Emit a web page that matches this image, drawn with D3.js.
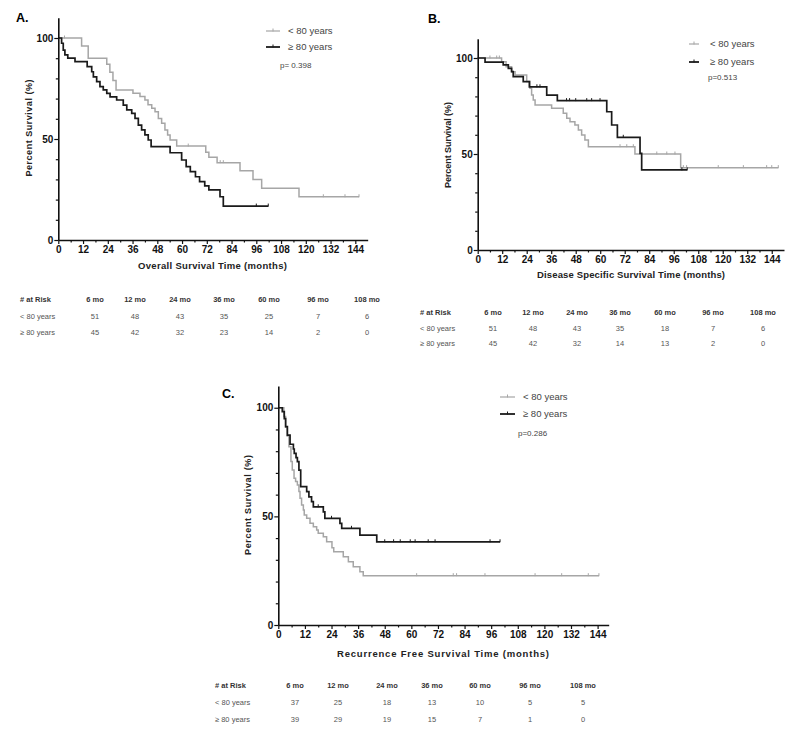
<!DOCTYPE html>
<html><head><meta charset="utf-8">
<script src="https://cdn.jsdelivr.net/npm/d3@7"></script>
<style>body{margin:0;background:#fff}svg{display:block}</style>
</head><body>
<svg id="c" width="800" height="738"></svg>
<script>
// ---------- shared tick labels ----------
const monthTicks = [0,12,24,36,48,60,72,84,96,108,120,132,144];
const monthMinor = [6,18,30,42,54,66,78,90,102,114,126,138];
const pctTicks = [0,50,100];
const pctMinor = [10,20,30,40,60,70,80,90];
const riskHeaders = ["6 mo","12 mo","24 mo","36 mo","60 mo","96 mo","108 mo"];
const groupLabels = ["< 80 years","\u2265 80 years"];

// ---------- Panel A: overall survival ----------
const aUnderT = [0,11.3,14.5,23.5,25,26.5,28,36.2,39.6,42,43.5,45.3,46.9,48.5,50.1,51.7,53,54.2,57.4,71.5,73,77,88.1,94.4,98.6,116.7];
const aUnderS = [100,96,90,87,83,79,74.3,72.6,71,69.3,67,65.2,63.5,60.2,57.8,54.5,52,49.5,46.5,43.5,41,38.3,34.3,30,25.6,21.4];
const aUnderEnd = 145.8;
const aUnderCens = [3,63,78.5,80,128.5,139,145.8];
const aOverT = [0,1.6,2.4,3.2,4.6,8.1,14,16.2,17,18.6,20.2,21.8,23.5,25.1,28.3,31.5,33.2,35.6,37.2,38.8,40.4,42,43.6,45,54.2,59.8,62,64,66.5,68.5,71,73,78.4,80];
const aOverS = [100,97.4,94,91.6,90,88.3,85.8,83.3,80.8,78.4,75.9,74.3,72.6,70.9,69.3,66.8,64.4,62.7,60.2,56.9,54.5,52,49.5,46.2,43.2,39.6,36.3,33.8,31.3,28.9,26.8,24.8,21.4,16.8];
const aOverEnd = 101.8;
const aOverCens = [96,101.8];
const aRiskUnder = [51,48,43,35,25,7,6];
const aRiskOver = [45,42,32,23,14,2,0];

// ---------- Panel B: disease specific survival ----------
const bUnderT = [0,11.7,13.9,16.6,18.3,24,25.6,26.4,27.2,28.1,36.2,41.9,43.6,45.2,47.6,49.3,50.9,52.5,54.2,77,99.4];
const bUnderS = [100,98,95.5,92.9,91.1,87.7,84.2,80.7,78.1,75.5,73.8,71.2,68.6,66.8,65.1,62.5,59.9,57.3,53.8,50,42.9];
const bUnderEnd = 147.2;
const bUnderCens = [6,9.3,10.6,69.7,73,76.2,87.7,92.6,96.6,100.7,102.3,117.8,130.1,141.5,144,147.2];
const bOverT = [0,3.6,12.5,15,16.6,17.4,22.3,25.3,33.8,39,63.2,65.6,68.4,79.5,80.3];
const bOverS = [100,97.8,96.4,94.6,92.9,90.3,87.7,85,80.7,77.8,72,65.1,58.7,50.3,41.7];
const bOverEnd = 102.6;
const bOverCens = [29,30.5,43.5,45,48,53.4,55.8,59.9,71.3,100,102.6];
const bRiskUnder = [51,48,43,35,18,7,6];
const bRiskOver = [45,42,32,14,13,2,0];

// ---------- Panel C: recurrence free survival ----------
const cUnderT = [0,2.5,3.3,4,4.8,5.7,6.3,7.1,7.8,8.6,9.3,9.8,10.5,11.3,11.7,12.8,14.3,15.8,17.3,18,20.3,21.8,24.2,25,29.3,31.6,33.8,36.8,38.3];
const cUnderS = [100,96,91,87,82,75.2,71.3,67.5,66,64.4,61.4,58.3,55.2,52.9,50.6,49.1,46.8,45.2,43.7,42.2,40.6,38.3,35.6,33.7,31.4,29.1,26.8,24.5,22.7];
const cUnderEnd = 144.6;
const cUnderCens = [62.4,78.9,80.4,93.2,115.8,127.8,139.8,144.6];
const cOverT = [0,1.8,2.7,3.3,4.1,5.3,6.8,7.2,8,8.6,9.3,10.1,12.8,13.8,15,15.8,20.3,21,27.8,28.6,36.8,44.4];
const cOverS = [100,98.2,95,91.3,87.4,83.2,81,79,77,75.2,71.3,63.7,61.4,59,56.8,54.4,52.1,49.1,46.8,44.5,41.4,38.3];
const cOverEnd = 100;
const cOverCens = [18,24,33,48,52,55,59.5,61.7,67.6,70.7,95.5,100];
const cRiskUnder = [37,25,18,13,10,5,5];
const cRiskOver = [39,29,19,15,7,1,0];

const GRAY = "#a6a6a6", BLACK = "#1a1a1a";
const svg = d3.select("#c");
const AX_FONT = "'Liberation Sans', Arial, sans-serif";

function survAt(t, s, c) {
  let v = s[0];
  for (let i = 0; i < t.length; i++) if (t[i] <= c) v = s[i];
  return v;
}

function drawPanel(p) {
  const g = svg.append("g");
  const x = d3.scaleLinear().domain([0, p.xEnd]).range([p.x0, p.x0 + p.xEnd * p.kx]);
  const y = d3.scaleLinear().domain([0, 110]).range([p.y0, p.y0 - 110 * p.ky]);

  // curves
  p.series.forEach(s => {
    const pts = s.t.map((t, i) => [t, s.s[i]]);
    pts.push([s.end, s.s[s.s.length - 1]]);
    g.append("path")
      .attr("d", d3.line().x(d => x(d[0])).y(d => y(d[1])).curve(d3.curveStepAfter)(pts))
      .attr("fill", "none").attr("stroke", s.color).attr("stroke-width", s.w);
    g.selectAll(null).data(s.cens).enter().append("line")
      .attr("x1", d => x(d)).attr("x2", d => x(d))
      .attr("y1", d => y(survAt(s.t, s.s, d)) - 2.5)
      .attr("y2", d => y(survAt(s.t, s.s, d)) + 0.5)
      .attr("stroke", s.color).attr("stroke-width", 1);
  });

  // x axis
  const xa = g.append("g").attr("transform", `translate(0,${p.y0})`)
    .call(d3.axisBottom(x).tickValues(monthTicks).tickSize(4).tickSizeOuter(0).tickPadding(2));
  g.append("g").attr("transform", `translate(0,${p.y0})`)
    .call(d3.axisBottom(x).tickValues(monthMinor).tickSize(2.5).tickFormat(""))
    .call(a => a.select(".domain").remove());
  // y axis
  const ya = g.append("g").attr("transform", `translate(${p.x0},0)`)
    .call(d3.axisLeft(y).tickValues(pctTicks).tickSize(4).tickSizeOuter(0).tickPadding(1));
  g.append("g").attr("transform", `translate(${p.x0},0)`)
    .call(d3.axisLeft(y).tickValues(pctMinor).tickSize(2.5).tickFormat(""))
    .call(a => a.select(".domain").remove());
  g.selectAll(".domain").attr("stroke", "#111").attr("stroke-width", 1.6);
  g.selectAll(".tick line").attr("stroke", "#111").attr("stroke-width", 1.2);
  g.selectAll(".tick text").attr("fill", "#111")
    .style("font", `bold 10px ${AX_FONT}`);

  // axis titles
  g.append("text").attr("x", p.xTitle[0]).attr("y", p.xTitle[1])
    .attr("text-anchor", "middle").attr("textLength", p.xTitle[2]).attr("lengthAdjust", "spacing")
    .style("font", `bold 9.5px ${AX_FONT}`).attr("fill", "#222").text(p.xLabel);
  g.append("text").attr("transform", `translate(${p.yTitle[0]},${p.yTitle[1]}) rotate(-90)`)
    .attr("text-anchor", "middle").attr("textLength", p.yTitle[2]).attr("lengthAdjust", "spacing")
    .style("font", `bold 9px ${AX_FONT}`).attr("fill", "#222").text("Percent Survival (%)");

  // panel letter
  g.append("text").attr("x", p.letter[0]).attr("y", p.letter[1])
    .style("font", `bold 12.5px ${AX_FONT}`).attr("fill", "#000").text(p.letter[2]);

  // legend
  const L = p.legend;
  [GRAY, BLACK].forEach((col, i) => {
    const yy = L.y[i];
    g.append("line").attr("x1", L.x1).attr("x2", L.x2).attr("y1", yy).attr("y2", yy)
      .attr("stroke", col).attr("stroke-width", i ? 1.8 : 1.2);
    g.append("line").attr("x1", (L.x1 + L.x2) / 2).attr("x2", (L.x1 + L.x2) / 2)
      .attr("y1", yy - 2.5).attr("y2", yy + 0.5).attr("stroke", col).attr("stroke-width", 1);
    g.append("text").attr("x", L.tx).attr("y", yy + 3.3)
      .style("font", `9.5px ${AX_FONT}`).attr("fill", "#444").text(groupLabels[i]);
  });
  g.append("text").attr("x", L.px).attr("y", L.py + 3)
    .style("font", `8px ${AX_FONT}`).attr("fill", "#444").text(p.pText);

  // risk table
  const T = p.table;
  const TF = "'Liberation Sans', Arial, sans-serif";
  g.append("text").attr("x", T.lx).attr("y", T.rows[0] + 2.6)
    .style("font", `bold 7.5px ${TF}`).attr("fill", "#333").text("# at Risk");
  riskHeaders.forEach((h, i) => g.append("text").attr("x", T.cols[i]).attr("y", T.rows[0] + 2.6)
    .attr("text-anchor", "middle").style("font", `bold 7.5px ${TF}`).attr("fill", "#333").text(h));
  [p.riskUnder, p.riskOver].forEach((arr, r) => {
    g.append("text").attr("x", T.lx).attr("y", T.rows[r + 1] + 2.6)
      .style("font", `7.5px ${TF}`).attr("fill", "#555").text(groupLabels[r]);
    arr.forEach((v, i) => g.append("text").attr("x", T.cols[i]).attr("y", T.rows[r + 1] + 2.6)
      .attr("text-anchor", "middle").style("font", `7.5px ${TF}`).attr("fill", "#555").text(v));
  });
}

drawPanel({
  x0: 58.3, kx: 2.0625, xEnd: 150, y0: 240, ky: 2.02,
  xLabel: "Overall Survival Time (months)", xTitle: [212.5, 268.5, 149], yTitle: [31.5, 128, 97],
  letter: [16, 22, "A."],
  legend: { x1: 266, x2: 280, tx: 288, y: [31, 47], px: 280, py: 65 }, pText: "p= 0.398",
  table: { lx: 20, rows: [299, 316, 332], cols: [95, 135, 180, 224, 269, 318, 367] },
  riskUnder: aRiskUnder, riskOver: aRiskOver,
  series: [
    { t: aUnderT, s: aUnderS, end: aUnderEnd, cens: aUnderCens, color: GRAY, w: 1.5 },
    { t: aOverT, s: aOverS, end: aOverEnd, cens: aOverCens, color: BLACK, w: 1.7 }
  ]
});
drawPanel({
  x0: 477.7, kx: 2.042, xEnd: 150, y0: 250, ky: 1.92,
  xLabel: "Disease Specific Survival Time (months)", xTitle: [631, 277.5, 188], yTitle: [450.5, 145, 86],
  letter: [428, 23, "B."],
  legend: { x1: 689, x2: 699, tx: 710, y: [44, 62], px: 708, py: 77 }, pText: "p=0.513",
  table: { lx: 420, rows: [312, 328, 343], cols: [493, 533, 577, 620, 665, 713, 763] },
  riskUnder: bRiskUnder, riskOver: bRiskOver,
  series: [
    { t: bUnderT, s: bUnderS, end: bUnderEnd, cens: bUnderCens, color: GRAY, w: 1.5 },
    { t: bOverT, s: bOverS, end: bOverEnd, cens: bOverCens, color: BLACK, w: 1.7 }
  ]
});
drawPanel({
  x0: 278.3, kx: 2.2174, xEnd: 149, y0: 625, ky: 2.1727,
  xLabel: "Recurrence Free Survival Time (months)", xTitle: [443, 656.5, 212], yTitle: [250.5, 505, 100],
  letter: [222, 398, "C."],
  legend: { x1: 500, x2: 515, tx: 523, y: [397, 414], px: 518, py: 433 }, pText: "p=0.286",
  table: { lx: 215, rows: [685, 702, 719], cols: [295, 338, 387, 432, 480, 530, 583] },
  riskUnder: cRiskUnder, riskOver: cRiskOver,
  series: [
    { t: cUnderT, s: cUnderS, end: cUnderEnd, cens: cUnderCens, color: GRAY, w: 1.5 },
    { t: cOverT, s: cOverS, end: cOverEnd, cens: cOverCens, color: BLACK, w: 1.7 }
  ]
});
</script>
</body></html>
